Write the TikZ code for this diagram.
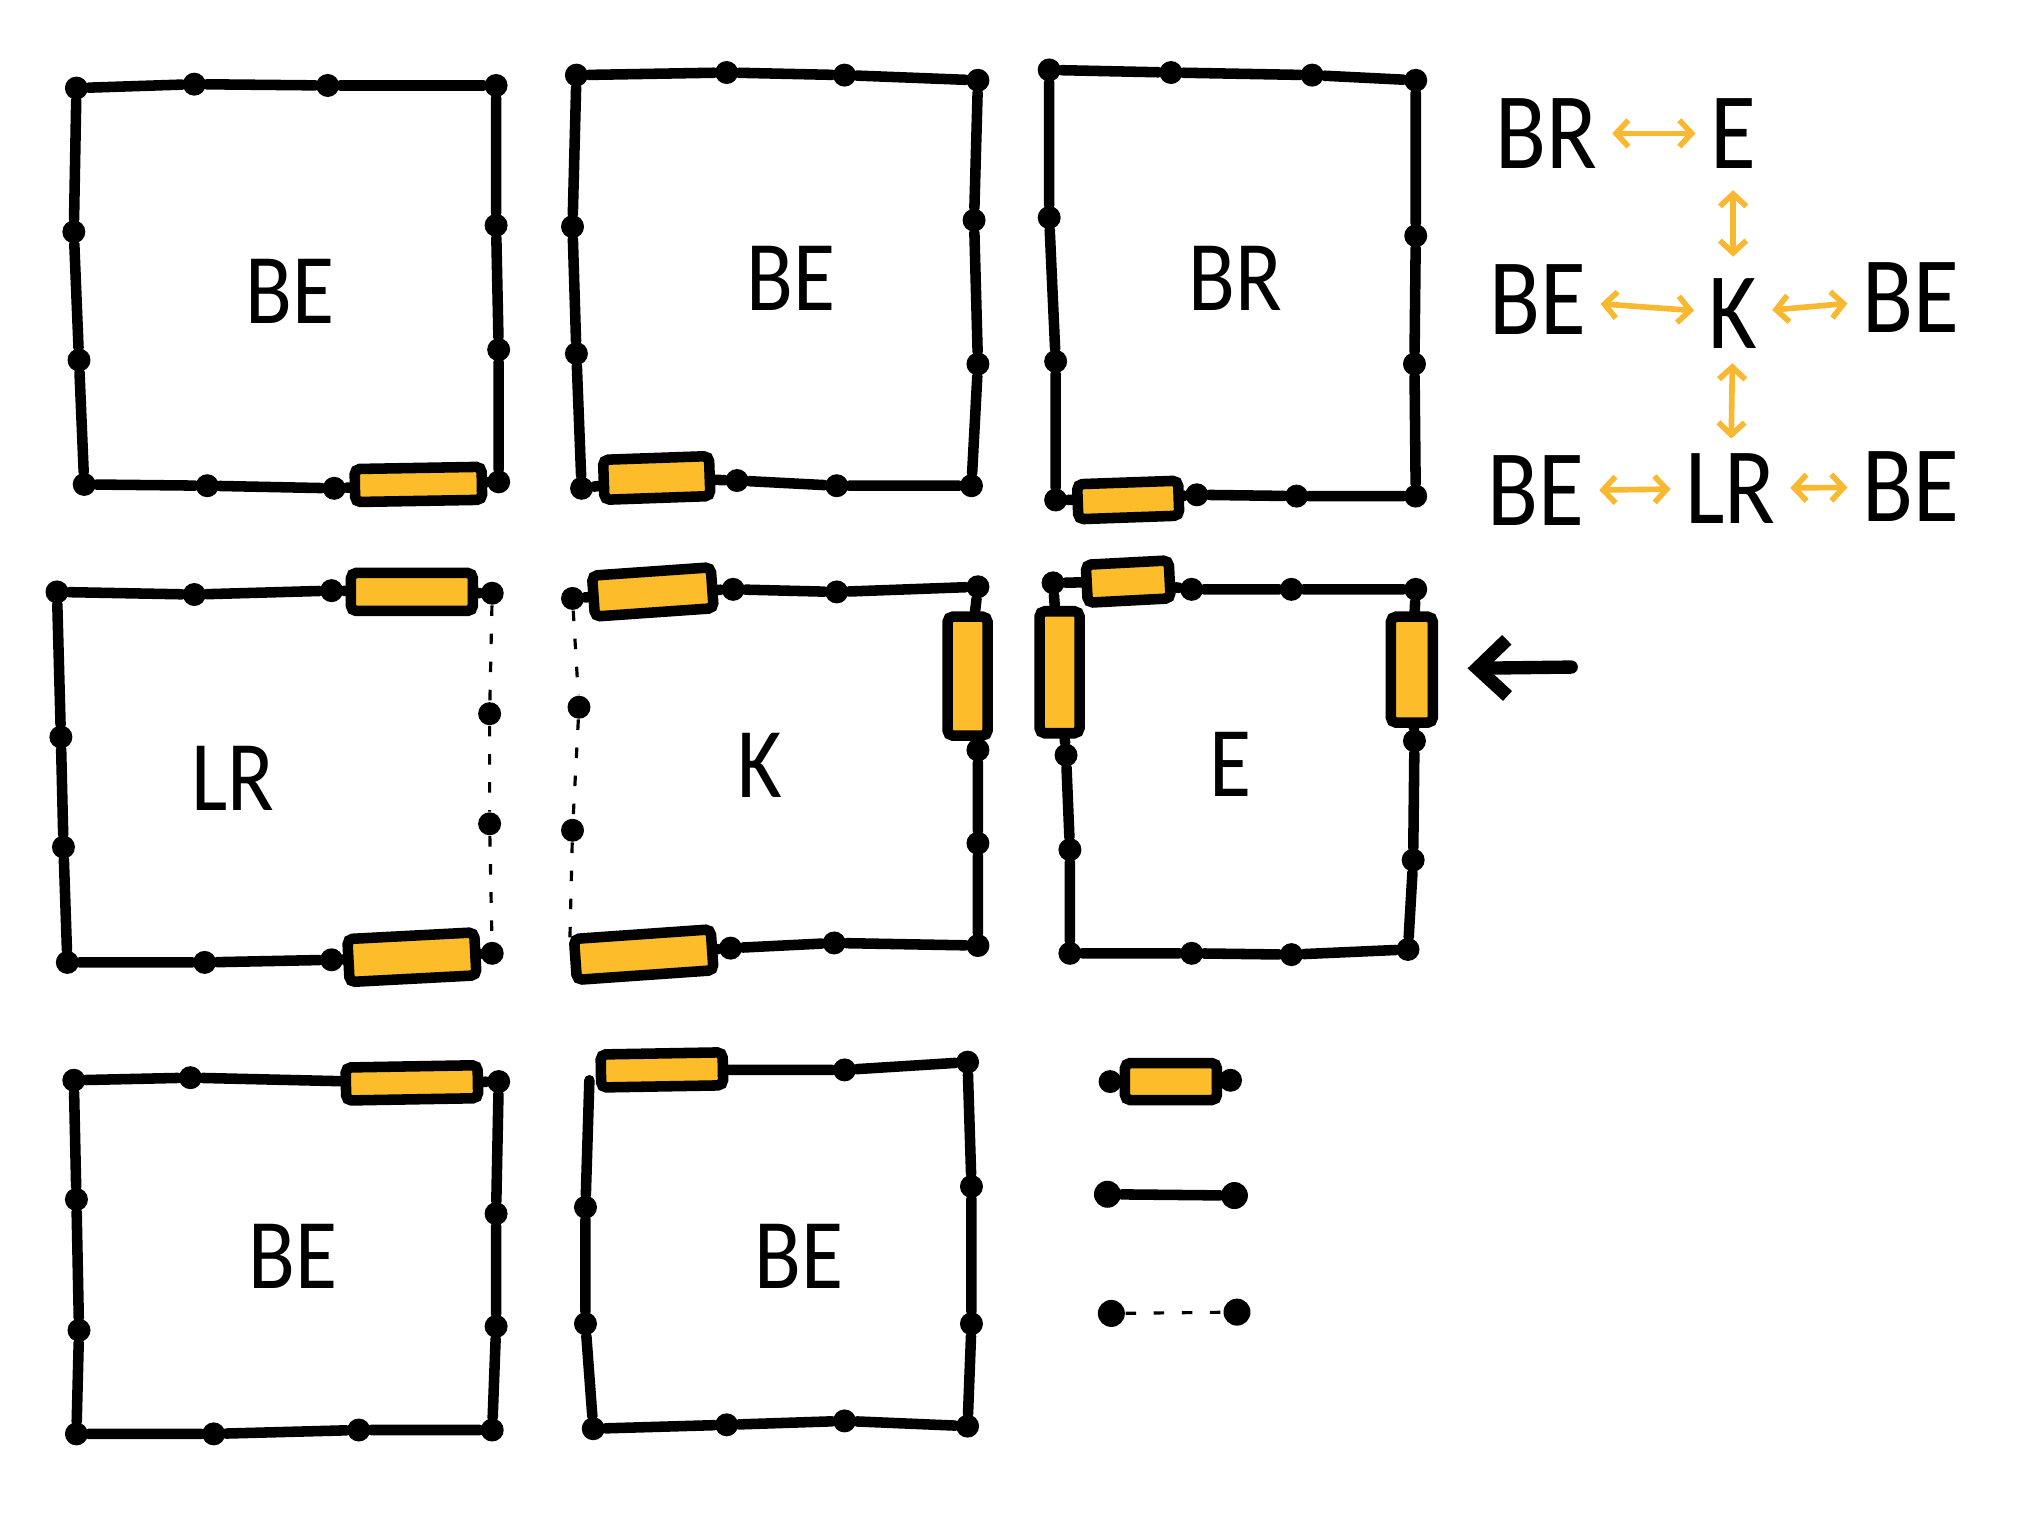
\documentclass[tikz,border=0pt]{standalone}
\usepackage{fontspec}
\setmainfont{Carlito}[FakeStretch=0.86]
\usetikzlibrary{arrows.meta}
\definecolor{resfill}{HTML}{FDBD2A}
\definecolor{legarrow}{HTML}{F8B830}
\pgfdeclarelayer{bg}
\pgfsetlayers{bg,main}
\tikzset{
  wire/.style={line width=3pt, line cap=round},
  dwire/.style={line width=0.9pt, dash pattern=on 3pt off 5pt},
  jd/.style={circle, fill=black, inner sep=0pt, minimum size=0.23cm},
  bigjd/.style={circle, fill=black, inner sep=0pt, minimum size=0.27cm},
  res/.style 2 args={rectangle, draw=black, line width=3pt, fill=resfill, rounded corners=1.5pt, inner sep=0pt, minimum width=#1cm, minimum height=#2cm},
  lbl/.style={font=\fontsize{28.5}{30}\selectfont, inner sep=0pt},
  leg/.style={font=\fontsize{31}{33}\selectfont, inner sep=4pt},
  legarr/.style={draw=legarrow, line width=1.6pt, {Straight Barb[length=3.5pt,width=7.5pt]}-{Straight Barb[length=3.5pt,width=7.5pt]}},
  bigarrow/.style={line width=3.8pt, line cap=round, -{Straight Barb[length=8.5pt,width=16pt]}}
}
\begin{document}
\begin{tikzpicture}[x=0.012953cm, y=-0.012953cm]
\path[use as bounding box] (0,0) rectangle (1568,1169);

% ---------- Box 1 (BE)
\node[jd] (a1) at (59,68) {};
\node[jd] (a2) at (150,65) {};
\node[jd] (a3) at (253,66) {};
\node[jd] (a4) at (383,66) {};
\node[jd] (a5) at (383,174) {};
\node[jd] (a6) at (385,270) {};
\node[jd] (a7) at (385,372) {};
\node[res={1.27}{0.33}, rotate=1] (ra) at (323,374) {};
\node[jd] (a8) at (258,377) {};
\node[jd] (a9) at (160,375) {};
\node[jd] (a10) at (65,374) {};
\node[jd] (a11) at (61,278) {};
\node[jd] (a12) at (57,179) {};
\node[lbl] (ta) at (224,225) {BE};

% ---------- Box 2 (BE)
\node[jd] (b1) at (445,58) {};
\node[jd] (b2) at (561,56) {};
\node[jd] (b3) at (652,58) {};
\node[jd] (b4) at (755,62) {};
\node[jd] (b5) at (752,170) {};
\node[jd] (b6) at (755,281) {};
\node[jd] (b7) at (750,375) {};
\node[jd] (b8) at (646,375) {};
\node[jd] (b9) at (569,371) {};
\node[jd] (b10) at (449,377) {};
\node[res={1.06}{0.40}, rotate=2] (rb) at (507,369) {};
\node[jd] (b11) at (445,273) {};
\node[jd] (b12) at (442,175) {};
\node[lbl] (tb) at (611,215) {BE};

% ---------- Box 3 (BR)
\node[jd] (c1) at (810,54) {};
\node[jd] (c2) at (904,56) {};
\node[jd] (c3) at (1013,58) {};
\node[jd] (c4) at (1093,62) {};
\node[jd] (c5) at (1093,182) {};
\node[jd] (c6) at (1092,281) {};
\node[jd] (c7) at (1093,383) {};
\node[jd] (c8) at (1001,383) {};
\node[jd] (c9) at (924,382) {};
\node[jd] (c10) at (815,386) {};
\node[res={1.01}{0.35}, rotate=2] (rc) at (871,386) {};
\node[jd] (c11) at (815,279) {};
\node[jd] (c12) at (810,168) {};
\node[lbl] (tc) at (954,215) {BR};

% ---------- Box 4 (LR)
\node[jd] (d1) at (44,457) {};
\node[jd] (d2) at (150,459) {};
\node[jd] (d3) at (256,456) {};
\node[res={1.22}{0.38}] (rd1) at (318,457) {};
\node[jd] (d4) at (380,458) {};
\node[jd] (d5) at (378,551) {};
\node[jd] (d6) at (378,636) {};
\node[jd] (d7) at (380,736) {};
\node[jd] (d8) at (256,741) {};
\node[res={1.27}{0.43}, rotate=3] (rd2) at (318,739) {};
\node[jd] (d9) at (158,743) {};
\node[jd] (d10) at (52,743) {};
\node[jd] (d11) at (49,654) {};
\node[jd] (d12) at (47,569) {};
\node[lbl] (td) at (180,601) {LR};

% ---------- Box 5 (K)
\node[jd] (e1) at (442,462) {};
\node[res={1.19}{0.41}, rotate=4] (re1) at (504,457) {};
\node[jd] (e2) at (566,455) {};
\node[jd] (e3) at (646,457) {};
\node[jd] (e4) at (755,453) {};
\node[res={0.40}{1.19}] (re2) at (747,522) {};
\node[jd] (e5) at (755,579) {};
\node[jd] (e6) at (755,651) {};
\node[jd] (e7) at (755,730) {};
\node[jd] (e8) at (644,728) {};
\node[jd] (e9) at (564,732) {};
\node[res={1.37}{0.41}, rotate=4] (re3) at (497,737) {};
\node[jd] (e10) at (447,546) {};
\node[jd] (e11) at (442,641) {};
\coordinate (ebl) at (440,724);
\node[lbl] (te) at (587,591) {K};

% ---------- Box 6 (E)
\node[jd] (f1) at (813,450) {};
\node[res={0.83}{0.38}, rotate=3] (rf1) at (871,449) {};
\node[jd] (f2) at (920,455) {};
\node[jd] (f3) at (997,455) {};
\node[jd] (f4) at (1093,455) {};
\node[res={0.42}{1.06}] (rf2) at (1090,517) {};
\node[jd] (f5) at (1092,572) {};
\node[jd] (f6) at (1091,664) {};
\node[jd] (f7) at (1087,733) {};
\node[jd] (f8) at (997,737) {};
\node[jd] (f9) at (920,736) {};
\node[jd] (f10) at (826,736) {};
\node[jd] (f11) at (826,656) {};
\node[jd] (f12) at (823,583) {};
\node[res={0.40}{1.22}] (rf3) at (818,519) {};
\node[lbl] (tf) at (950,590) {E};

% big arrow
\coordinate (ar1) at (1213,515);
\coordinate (ar2) at (1133,516);
\draw[bigarrow] (ar1) -- (ar2);

% ---------- Box 7 (BE)
\node[jd] (g1) at (57,834) {};
\node[jd] (g2) at (147,832) {};
\node[res={1.32}{0.33}, rotate=1] (rg) at (318,836) {};
\node[jd] (g3) at (385,835) {};
\node[jd] (g4) at (383,937) {};
\node[jd] (g5) at (383,1024) {};
\node[jd] (g6) at (380,1104) {};
\node[jd] (g7) at (277,1104) {};
\node[jd] (g8) at (165,1107) {};
\node[jd] (g9) at (59,1107) {};
\node[jd] (g10) at (61,1027) {};
\node[jd] (g11) at (59,926) {};
\node[lbl] (tg) at (226,970) {BE};

% ---------- Box 8 (BE)
\coordinate (h0) at (455,834);
\node[res={1.22}{0.33}, rotate=1] (rh) at (511,826) {};
\node[jd] (h1) at (652,826) {};
\node[jd] (h2) at (747,820) {};
\node[jd] (h3) at (750,916) {};
\node[jd] (h4) at (750,1022) {};
\node[jd] (h5) at (747,1101) {};
\node[jd] (h6) at (652,1097) {};
\node[jd] (h7) at (561,1100) {};
\node[jd] (h8) at (458,1103) {};
\node[jd] (h9) at (452,1022) {};
\node[jd] (h10) at (452,932) {};
\node[lbl] (th) at (617,970) {BE};

% ---------- Legend (symbols)
\node[bigjd, minimum size=0.23cm] (m1) at (857,835) {};
\node[res={0.92}{0.37}] (rm) at (904,835) {};
\node[bigjd, minimum size=0.23cm] (m2) at (950,834) {};
\node[bigjd] (n1) at (855,922) {};
\node[bigjd] (n2) at (953,923) {};
\node[bigjd] (o1) at (858,1014) {};
\node[bigjd] (o2) at (955,1013) {};

% ---------- Legend (relations)
\node[leg] (lBR) at (1194,103) {BR};
\node[leg] (lE) at (1338,103) {E};
\node[leg] (lBEa) at (1187,231) {BE};
\node[leg] (lK) at (1338,242) {K};
\node[leg] (lBEb) at (1475,230) {BE};
\node[leg] (lBEc) at (1186,379) {BE};
\node[leg] (lLR) at (1336,377) {LR};
\node[leg] (lBEd) at (1475,376) {BE};
\draw[legarr] (lBR) -- (lE);
\draw[legarr, shorten <=2pt, shorten >=2pt] (lE) -- (lK);
\draw[legarr] (lBEa) -- (lK);
\draw[legarr] (lK) -- (lBEb);
\draw[legarr] (lK) -- (lLR);
\draw[legarr] (lBEc) -- (lLR);
\draw[legarr] (lLR) -- (lBEd);

% ---------- wires (behind)
\begin{pgfonlayer}{bg}
\draw[wire] (a1)--(a2)--(a3)--(a4)--(a5)--(a6)--(a7)--(ra)--(a8)--(a9)--(a10)--(a11)--(a12)--(a1);
\draw[wire] (b1)--(b2)--(b3)--(b4)--(b5)--(b6)--(b7)--(b8)--(b9)--(rb)--(b10)--(b11)--(b12)--(b1);
\draw[wire] (c1)--(c2)--(c3)--(c4)--(c5)--(c6)--(c7)--(c8)--(c9)--(rc)--(c10)--(c11)--(c12)--(c1);
\draw[wire] (d7)--(rd2)--(d8)--(d9)--(d10)--(d11)--(d12)--(d1)--(d2)--(d3)--(rd1)--(d4);
\draw[dwire] (d4)--(d5)--(d6)--(d7);
\draw[wire] (e1)--(re1)--(e2)--(e3)--(e4)--(re2)--(e5)--(e6)--(e7)--(e8)--(e9)--(re3);
\draw[dwire] (e1)--(e10)--(e11)--(ebl);
\draw[wire] (f1)--(rf1)--(f2)--(f3)--(f4)--(rf2)--(f5)--(f6)--(f7)--(f8)--(f9)--(f10)--(f11)--(f12)--(rf3)--(f1);
\draw[wire] (g1)--(g2)--(rg)--(g3)--(g4)--(g5)--(g6)--(g7)--(g8)--(g9)--(g10)--(g11)--(g1);
\draw[wire] (rh)--(h1)--(h2)--(h3)--(h4)--(h5)--(h6)--(h7)--(h8)--(h9)--(h10)--(h0);
\draw[wire] (m1)--(rm)--(m2);
\draw[wire] (n1)--(n2);
\draw[dwire] (o1)--(o2);
\end{pgfonlayer}
\end{tikzpicture}
\end{document}
